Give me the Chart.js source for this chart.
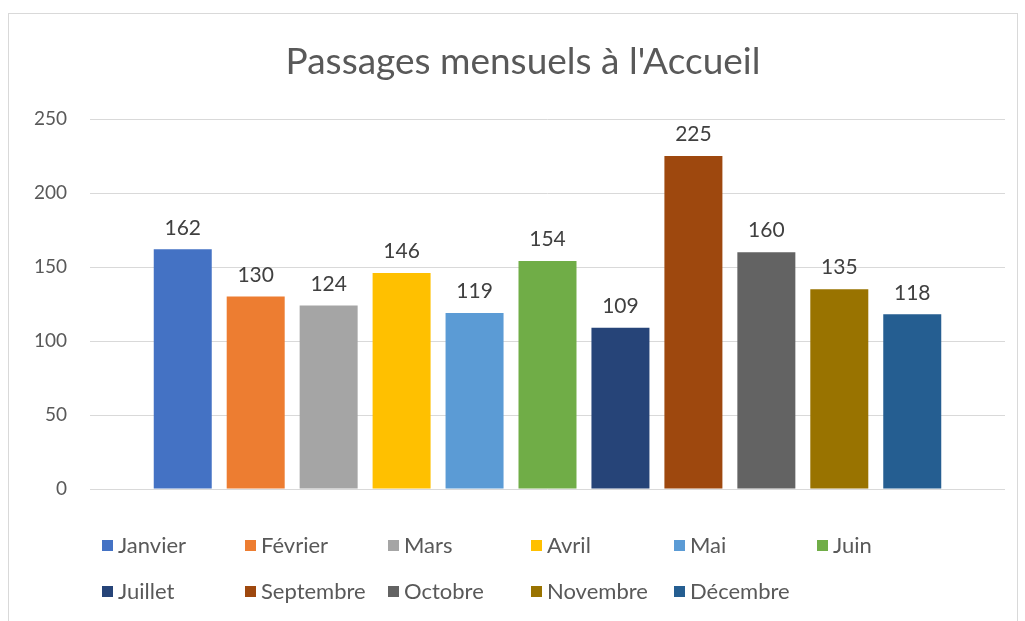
<!DOCTYPE html>
<html>
<head>
<meta charset="utf-8">
<script src="https://cdn.jsdelivr.net/npm/chart.js@4/dist/chart.umd.min.js"></script>
<style>
  body { margin: 0; background: #fff; }
  canvas { display: block; }
</style>
</head>
<body>
<canvas id="barChart" width="1025" height="621"></canvas>
<script>
const title = "Passages mensuels à l'Accueil"
const months = ['Janvier', 'Février', 'Mars', 'Avril', 'Mai', 'Juin', 'Juillet', 'Septembre', 'Octobre', 'Novembre', 'Décembre']
const passages = [162, 130, 124, 146, 119, 154, 109, 225, 160, 135, 118]
const colors = [
    '#4472C4', '#ED7D31', '#A5A5A5', '#FFC000', '#5B9BD5', '#70AD47',
    '#264478', '#9E480E', '#636363', '#997300', '#255E91'
]
const yTicks = [0, 50, 100, 150, 200, 250]

const font = 'Lato, "Open Sans", sans-serif'

// fond blanc + cadre gris + titre (centré sur le cadre comme dans Excel)
const frame = {
    id: 'frame',
    beforeDraw(chart) {
        const ctx = chart.ctx
        ctx.save()
        ctx.fillStyle = '#fff'
        ctx.fillRect(0, 0, chart.width, chart.height)
        ctx.strokeStyle = '#d9d9d9'
        ctx.lineWidth = 1
        ctx.strokeRect(8.5, 13.5, 1009, 620)
        ctx.font = '37px ' + font
        ctx.fillStyle = '#595959'
        ctx.textAlign = 'center'
        ctx.textBaseline = 'middle'
        ctx.fillText(title, 523, 62)
        ctx.restore()
    }
}

// valeurs au-dessus des barres
const valueLabels = {
    id: 'valueLabels',
    afterDatasetsDraw(chart) {
        const ctx = chart.ctx
        ctx.save()
        ctx.font = '21px ' + font
        ctx.fillStyle = '#404040'
        ctx.textAlign = 'center'
        ctx.textBaseline = 'bottom'
        chart.data.datasets.forEach((ds, i) => {
            const bar = chart.getDatasetMeta(i).data[0]
            ctx.fillText(ds.data[0], bar.x, bar.y - 11)
        })
        ctx.restore()
    }
}

// légende en grille façon Excel (6 colonnes)
const gridLegend = {
    id: 'gridLegend',
    afterDraw(chart) {
        const ctx = chart.ctx
        ctx.save()
        ctx.font = '22px ' + font
        ctx.textBaseline = 'middle'
        ctx.textAlign = 'left'
        chart.data.datasets.forEach((ds, i) => {
            const col = i % 6
            const row = Math.floor(i / 6)
            const x = 102 + col * 143
            const y = 545 + row * 46
            ctx.fillStyle = ds.backgroundColor
            ctx.fillRect(x, y - 5, 11, 11)
            ctx.fillStyle = '#595959'
            ctx.fillText(ds.label, x + 16, y + 1)
        })
        ctx.restore()
    }
}

const bar = document.querySelector('#barChart')
new Chart(bar, {
    type: 'bar',
    data: {
        labels: [''],
        datasets: months.map((m, i) => ({
            label: m,
            data: [passages[i]],
            backgroundColor: colors[i],
            categoryPercentage: 0.877,
            barPercentage: 0.795
        }))
    },
    options: {
        responsive: false,
        animation: false,
        layout: {
            padding: { left: 0, right: 20, top: 119, bottom: 132 }
        },
        plugins: {
            legend: { display: false },
            tooltip: { enabled: false },
            title: { display: false }
        },
        scales: {
            x: { display: false },
            y: {
                min: 0,
                max: 250,
                afterFit(scale) { scale.width = 90 },
                afterBuildTicks(scale) { scale.ticks = yTicks.map(v => ({ value: v })) },
                grid: { color: '#d9d9d9', drawTicks: false },
                border: { display: false },
                ticks: {
                    padding: 23,
                    color: '#595959',
                    font: { family: font, size: 19 }
                }
            }
        }
    },
    plugins: [frame, valueLabels, gridLegend]
})
</script>
</body>
</html>
